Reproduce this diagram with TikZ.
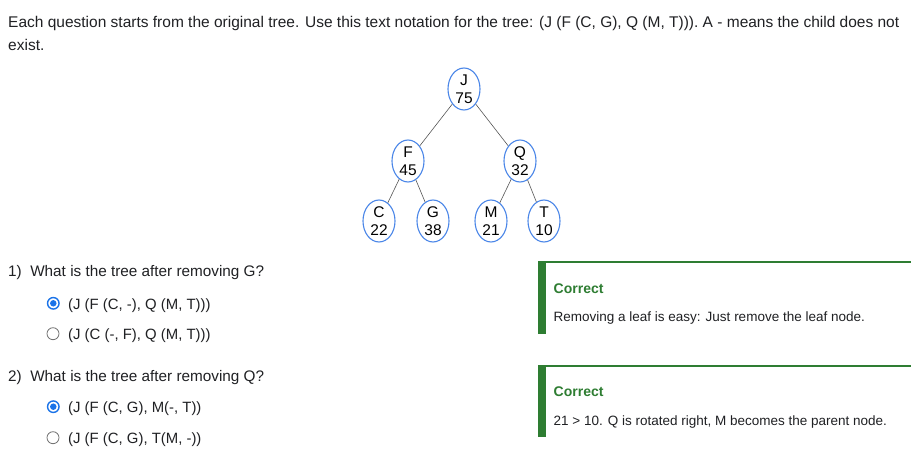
\documentclass[tikz,border=0pt]{standalone}
\usepackage{fontspec}
\setmainfont{Liberation Sans}
\usetikzlibrary{shapes.geometric}
\definecolor{txt}{HTML}{202124}
\definecolor{nodeblue}{HTML}{4A86E8}
\definecolor{radioblue}{HTML}{1A73E8}
\definecolor{okgreen}{HTML}{2E7D32}
\definecolor{edgegray}{HTML}{555555}
\definecolor{radiogray}{HTML}{757575}
\begin{document}
\begin{tikzpicture}[x=1pt,y=-1pt,
  tnode/.style={ellipse, draw=nodeblue, line width=1.1pt, minimum width=32pt, minimum height=42pt, inner sep=0pt, align=center, font=\fontsize{15.5}{17.5}\selectfont, text=black},
  tedge/.style={draw=edgegray, line width=0.6pt},
  qtext/.style={anchor=base west, inner sep=0pt, text=txt, font=\fontsize{15.3}{18}\selectfont},
  otext/.style={qtext, font=\fontsize{14.9}{18}\selectfont},
  fbhead/.style={anchor=base west, inner sep=0pt, text=okgreen, font=\fontsize{14}{16}\selectfont\bfseries},
  fbtext/.style={anchor=base west, inner sep=0pt, text=txt, font=\fontsize{13.5}{16}\selectfont},
  radioon/.style={circle, draw=radioblue, line width=1.4pt, minimum size=11.5pt, inner sep=0pt},
  radiodot/.style={circle, fill=radioblue, minimum size=6.5pt, inner sep=0pt},
  radiooff/.style={circle, draw=radiogray, line width=0.8pt, minimum size=12pt, inner sep=0pt}
]
\useasboundingbox[fill=white] (0,0) rectangle (911,462);

% header
\node[qtext, font=\fontsize{15.5}{18}\selectfont] (h1) at (8,28) {Each question starts from the original tree. Use this text notation for the tree: (J (F (C, G), Q (M, T))). A - means the child does not};
\node[qtext, font=\fontsize{15.5}{18}\selectfont] (h2) at (8,51) {exist.};

% tree
\node[tnode] (J) at (464,89) {J\\75};
\node[tnode] (F) at (408,161) {F\\45};
\node[tnode] (Q) at (520,161) {Q\\32};
\node[tnode] (C) at (379,221) {C\\22};
\node[tnode] (G) at (433,221) {G\\38};
\node[tnode] (M) at (491,221) {M\\21};
\node[tnode] (T) at (544,221) {T\\10};
\draw[tedge] (J) -- (F);
\draw[tedge] (J) -- (Q);
\draw[tedge] (F) -- (C);
\draw[tedge] (F) -- (G);
\draw[tedge] (Q) -- (M);
\draw[tedge] (Q) -- (T);

% question 1
\node[qtext] (q1) at (8,277) {1)\ \ What is the tree after removing G?};
\node[radioon] (r1a) at (53.3,303.3) {};
\node[radiodot] (r1ad) at (53.3,303.3) {};
\node[otext] (o1a) at (68,309.5) {(J (F (C, -), Q (M, T)))};
\node[radiooff] (r1b) at (53,333.7) {};
\node[otext] (o1b) at (68,339.5) {(J (C (-, F), Q (M, T)))};

% question 2
\node[qtext] (q2) at (8,381.5) {2)\ \ What is the tree after removing Q?};
\node[radioon] (r2a) at (53.3,406.7) {};
\node[radiodot] (r2ad) at (53.3,406.7) {};
\node[otext] (o2a) at (68,412.5) {(J (F (C, G), M(-, T))};
\node[radiooff] (r2b) at (53,437.7) {};
\node[otext] (o2b) at (68,443) {(J (F (C, G), T(M, -))};

% feedback 1
\fill[okgreen] (538,261) rectangle (911,263);
\fill[okgreen] (538,261) rectangle (546,334);
\node[fbhead] (c1) at (553.5,293.3) {Correct};
\node[fbtext] (f1) at (553.5,321.5) {Removing a leaf is easy: Just remove the leaf node.};

% feedback 2
\fill[okgreen] (538,365) rectangle (911,367);
\fill[okgreen] (538,365) rectangle (546,437.5);
\node[fbhead] (c2) at (553.5,396.7) {Correct};
\node[fbtext] (f2) at (553.5,425) {21 > 10. Q is rotated right, M becomes the parent node.};
\end{tikzpicture}
\end{document}
